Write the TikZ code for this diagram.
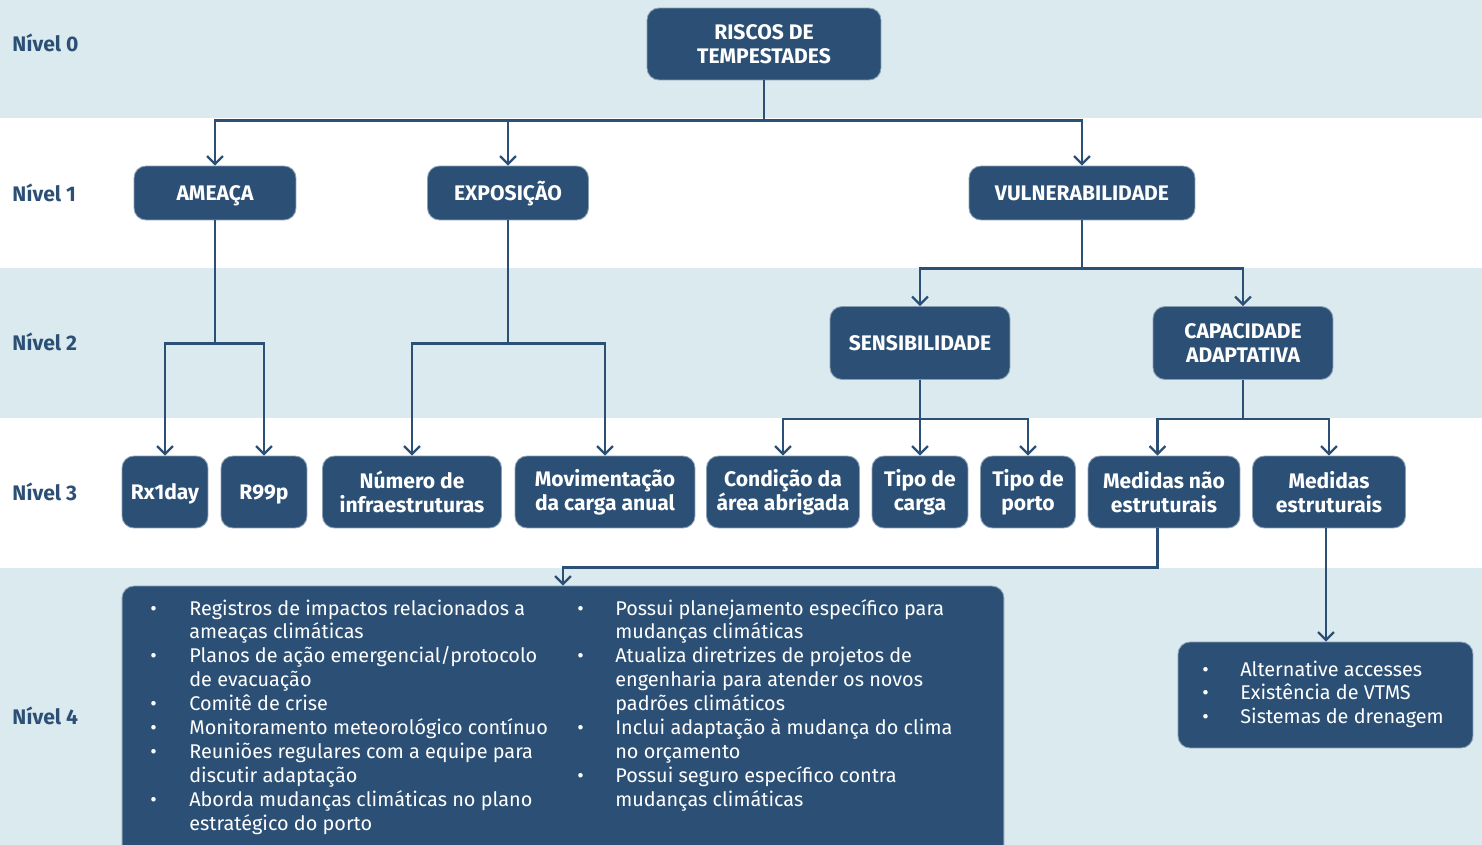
\documentclass[tikz,border=0pt]{standalone}
\usepackage{fontspec}
\setmainfont{Fira Sans}
\usetikzlibrary{arrows.meta}

\definecolor{azulcaixa}{RGB}{44,80,117}
\definecolor{azulfaixa}{RGB}{218,234,238}

\tikzset{
  caixa/.style={rounded corners=0.24cm, fill=azulcaixa, draw=azulcaixa!55!white, line width=0.5pt,
    text=white, font=\fontsize{12}{13.6}\selectfont\bfseries, align=center, inner sep=0pt,
    minimum height=1.44cm},
  umalinha/.style={text height=8.2pt, text depth=0pt},
  nivel/.style={anchor=west, text=azulcaixa, font=\fontsize{12}{13.6}\selectfont\bfseries, inner sep=0pt},
  seta/.style={line width=1.3pt, draw=azulcaixa, -{Straight Barb[length=4.5pt,width=9pt]}},
  lista/.style={anchor=base west, text=white, font=\fontsize{11.3}{13.6}\selectfont, inner sep=0pt},
}

\begin{document}
\begin{tikzpicture}[x=0.02cm,y=-0.02cm]
\useasboundingbox (0,0) rectangle (1482,845);
\clip (0,0) rectangle (1482,845);

%%%%%%%%%%%%%%%%%%%
% Faixas dos niveis

\fill[azulfaixa] (0,0) rectangle (1482,118);
\fill[azulfaixa] (0,268) rectangle (1482,418);
\fill[azulfaixa] (0,568) rectangle (1482,845);

\node[nivel, umalinha] (nivel0) at (12,44) {Nível 0};
\node[nivel, umalinha] (nivel1) at (12,194) {Nível 1};
\node[nivel, umalinha] (nivel2) at (12,343) {Nível 2};
\node[nivel, umalinha] (nivel3) at (12,493) {Nível 3};
\node[nivel, umalinha] (nivel4) at (12,717) {Nível 4};

%%%%%%%%%%%%%%%%%%%
% Niveis 0 a 2

\node[caixa, minimum width=4.68cm] (riscos) at (764,44) {RISCOS DE\\TEMPESTADES};

\node[caixa, umalinha, minimum width=3.24cm, minimum height=1.08cm] (ameaca) at (215,193) {AMEAÇA};
\node[caixa, umalinha, minimum width=3.22cm, minimum height=1.08cm] (exposicao) at (508,193) {EXPOSIÇÃO};
\node[caixa, umalinha, minimum width=4.52cm, minimum height=1.08cm] (vulner) at (1082,193) {VULNERABILIDADE};

\node[caixa, umalinha, minimum width=3.6cm, minimum height=1.46cm] (sensib) at (920,343) {SENSIBILIDADE};
\node[caixa, minimum width=3.6cm, minimum height=1.46cm] (capacid) at (1243,343) {CAPACIDADE\\ADAPTATIVA};

%%%%%%%%%%%%%%%%%%%
% Nivel 3

\node[caixa, umalinha, minimum width=1.72cm] (rx1day) at (165,492) {Rx1day};
\node[caixa, umalinha, minimum width=1.72cm] (r99p) at (264,492) {R99p};
\node[caixa, minimum width=3.58cm] (numinfra) at (412,492) {Número de\\infraestruturas};
\node[caixa, minimum width=3.6cm] (movcarga) at (605,492) {Movimentação\\da carga anual};
\node[caixa, minimum width=3.06cm] (condarea) at (783,492) {Condição da\\área abrigada};
\node[caixa, minimum width=1.92cm] (tipocarga) at (920,492) {Tipo de\\carga};
\node[caixa, minimum width=1.9cm] (tipoporto) at (1028,492) {Tipo de\\porto};
\node[caixa, minimum width=3.04cm] (mednaoest) at (1164,492) {Medidas não\\estruturais};
\node[caixa, minimum width=3.06cm] (medest) at (1329,492) {Medidas\\estruturais};

%%%%%%%%%%%%%%%%%%%
% Nivel 4

\node[caixa, minimum width=17.64cm, minimum height=5.48cm] (acoes) at (563,723) {};
\node[caixa, minimum width=5.9cm, minimum height=2.12cm] (estrut) at (1325.5,695) {};

\node[lista] (lista1) at (150,615) {\begin{tabular}[t]{@{}p{0.78cm}@{}l@{}}
\textbullet & Registros de impactos relacionados a\\
 & ameaças climáticas\\
\textbullet & Planos de ação emergencial/protocolo\\
 & de evacuação\\
\textbullet & Comitê de crise\\
\textbullet & Monitoramento meteorológico contínuo\\
\textbullet & Reuniões regulares com a equipe para\\
 & discutir adaptação\\
\textbullet & Aborda mudanças climáticas no plano\\
 & estratégico do porto
\end{tabular}};

\node[lista] (lista2) at (577,615) {\begin{tabular}[t]{@{}p{0.76cm}@{}l@{}}
\textbullet & Possui planejamento específico para\\
 & mudanças climáticas\\
\textbullet & Atualiza diretrizes de projetos de\\
 & engenharia para atender os novos\\
 & padrões climáticos\\
\textbullet & Inclui adaptação à mudança do clima\\
 & no orçamento\\
\textbullet & Possui seguro específico contra\\
 & mudanças climáticas
\end{tabular}};

\node[lista] (lista3) at (1202,676) {\begin{tabular}[t]{@{}p{0.76cm}@{}l@{}}
\textbullet & Alternative accesses\\
\textbullet & Existência de VTMS\\
\textbullet & Sistemas de drenagem
\end{tabular}};

%%%%%%%%%%%%%%%%%%%
% Ligacoes

\draw[seta] (riscos.south) -- ++(0,40) -| (ameaca.north);
\draw[seta] (riscos.south) -- ++(0,40) -| (exposicao.north);
\draw[seta] (riscos.south) -- ++(0,40) -| (vulner.north);

\draw[seta] (vulner.south) -- ++(0,48) -| (sensib.north);
\draw[seta] (vulner.south) -- ++(0,48) -| (capacid.north);

\draw[seta] (ameaca.south) -- ++(0,123) -| (rx1day.north);
\draw[seta] (ameaca.south) -- ++(0,123) -| (r99p.north);
\draw[seta] (exposicao.south) -- ++(0,123) -| (numinfra.north);
\draw[seta] (exposicao.south) -- ++(0,123) -| (movcarga.north);

\draw[seta] (sensib.south) -- ++(0,39) -| (condarea.north);
\draw[seta] (sensib.south) -- ++(0,39) -| (tipocarga.north);
\draw[seta] (sensib.south) -- ++(0,39) -| (tipoporto.north);

\draw[seta] (capacid.south) -- ++(0,39) -| ([xshift=-0.13cm]mednaoest.north);
\draw[seta] (capacid.south) -- ++(0,39) -| (medest.north);

\draw[seta] ([xshift=-0.13cm]mednaoest.south) -- ++(0,39) -| (acoes.north);
\draw[seta] ([xshift=-0.06cm]medest.south) -- ([xshift=-0.06cm]medest.south |- estrut.north);

\end{tikzpicture}
\end{document}
